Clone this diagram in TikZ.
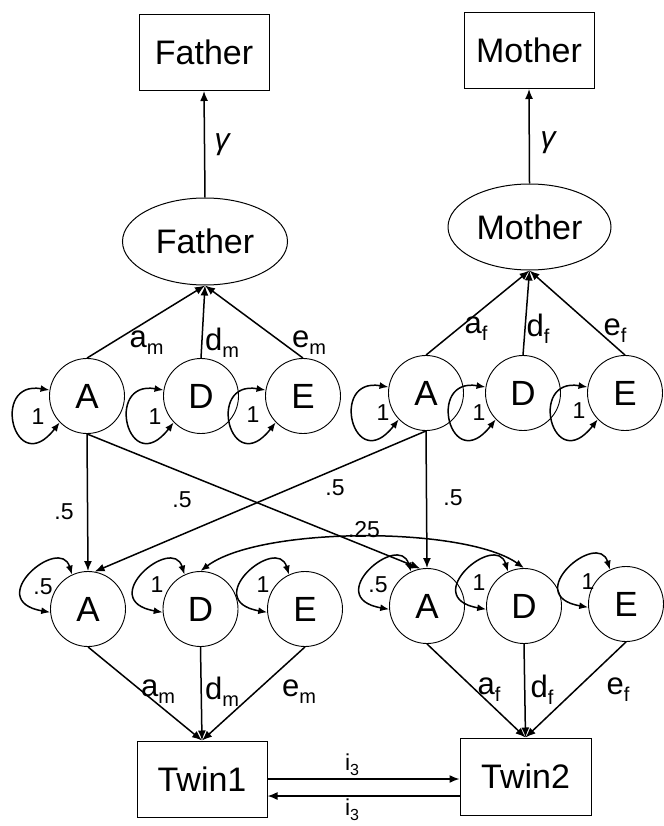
\documentclass[tikz,border=0pt]{standalone}
\usepackage{fontspec}
\setmainfont{Liberation Sans}
\usetikzlibrary{arrows.meta,shapes.geometric}
\newcommand\lowsub[1]{\raisebox{-7pt}{\fontsize{20}{22}\selectfont #1}}
\newcommand\lowsubsm[1]{\raisebox{-5pt}{\fontsize{16}{18}\selectfont #1}}
\begin{document}
\begin{tikzpicture}[x=1pt,y=-1pt,
  obsbox/.style={draw, line width=1pt, minimum width=130pt, minimum height=76pt, inner sep=0pt, font=\fontsize{34}{38}\selectfont},
  latell/.style={ellipse, draw, line width=1pt, minimum width=165pt, minimum height=87pt, inner sep=0pt, font=\fontsize{34}{38}\selectfont},
  latc/.style={circle, draw, line width=0.9pt, minimum size=75pt, inner sep=0pt, font=\fontsize{35}{38}\selectfont},
  onearrow/.style={line width=1.5pt, -{Latex[length=10pt,width=8pt]}},
  twoarrow/.style={line width=1.5pt, {Latex[length=9pt,width=7pt]}-{Latex[length=9pt,width=7pt]}},
  lab/.style={inner sep=0pt, font=\fontsize{31}{34}\selectfont},
  num/.style={inner sep=0pt, font=\fontsize{23}{26}\selectfont},
  gam/.style={inner sep=0pt, font=\fontsize{30}{34}\selectfont\itshape}
]
\useasboundingbox (0,0) rectangle (663,826);

% observed boxes
\node[obsbox] (fb) at (204,52.5) {Father};
\node[obsbox] (mb) at (529,50.5) {Mother};
\node[obsbox] (tw1) at (202,779) {Twin1};
\node[obsbox, minimum width=131pt, minimum height=77pt] (tw2) at (525.5,776.5) {Twin2};

% latent parents
\node[latell] (fe) at (205,241.5) {Father};
\node[latell, minimum width=163pt, minimum height=86pt] (me) at (529.5,227) {Mother};

% parent ACE
\node[latc] (fA) at (87,396) {A};
\node[latc] (fD) at (201,396) {D};
\node[latc] (fE) at (303,396) {E};
\node[latc] (mA) at (426,393) {A};
\node[latc] (mD) at (523,393) {D};
\node[latc] (mE) at (625,393) {E};

% twin ACE
\node[latc] (aA) at (88,609) {A};
\node[latc] (aD) at (200.5,609) {D};
\node[latc] (aE) at (305,609) {E};
\node[latc] (bA) at (427,606) {A};
\node[latc] (bD) at (524,606) {D};
\node[latc] (bE) at (626,604) {E};

% gamma paths
\draw[onearrow] (fe.north) -- (fb.south);
\draw[onearrow] (me.north) -- (mb.south);
\node[gam] (g1) at (222,145) {γ};
\node[gam] (g2) at (548,143) {γ};

% parent ACE to latent parents
\foreach \n in {fA,fD,fE} \draw[onearrow] (\n.north) -- (fe.south);
\foreach \n in {mA,mD,mE} \draw[onearrow] (\n.north) -- (me.south);

% twin ACE to twins
\foreach \n in {aA,aD,aE} \draw[onearrow] (\n.south) -- (tw1.north);
\foreach \n in {bA,bD,bE} \draw[onearrow] (\n.south) -- (tw2.north);

% transmission
\draw[onearrow] (fA.south) -- (aA.north);
\draw[onearrow] (fA.south) -- (bA.100);
\draw[onearrow] (mA.south) -- (bA.north);
\draw[onearrow] (mA.south) -- (aA.80);

% .25 covariance
\draw[twoarrow] (aD.north) .. controls +(59,-45) and +(-59,-42) .. (bD.north);

% variance loops upper row
\foreach \n in {fA,fD,fE,mA,mD,mE}
  \draw[twoarrow] (\n.171) .. controls +(-60,-10) and +(-45,58) .. (\n.224);
% variance loops lower row
\foreach \n in {aA,aD,aE,bA,bD,bE}
  \draw[twoarrow] (\n.115) .. controls +(-12,-40) and +(-68,-12) .. (\n.185);

% loop labels upper
\node[num] (l1) at (38,417) {1};
\node[num] (l2) at (155,417) {1};
\node[num] (l3) at (253,415) {1};
\node[num] (l4) at (383,413) {1};
\node[num] (l5) at (479,413) {1};
\node[num] (l6) at (579,411) {1};
% loop labels lower
\node[num] (l7) at (43,587) {.5};
\node[num] (l8) at (157,585) {1};
\node[num] (l9) at (263,585) {1};
\node[num] (l10) at (378,585) {.5};
\node[num] (l11) at (479,583) {1};
\node[num] (l12) at (588,582) {1};

% transmission labels
\node[num] (t1) at (64,512) {.5};
\node[num] (t2) at (182,500) {.5};
\node[num] (t3) at (335,488) {.5};
\node[num] (t4) at (453,498) {.5};
\node[num] (t5) at (364,530) {.25};

% path labels upper
\node[lab] (pa1) at (146.5,342.5) {a\lowsub{m}};
\node[lab] (pd1) at (222,342.5) {d\lowsub{m}};
\node[lab] (pe1) at (309,342.5) {e\lowsub{m}};
\node[lab] (pa2) at (476,329) {a\lowsub{f}};
\node[lab] (pd2) at (538,329) {d\lowsub{f}};
\node[lab] (pe2) at (615,331) {e\lowsub{f}};
% path labels lower
\node[lab] (qa1) at (158,692) {a\lowsub{m}};
\node[lab] (qd1) at (222,692) {d\lowsub{m}};
\node[lab] (qe1) at (299,692) {e\lowsub{m}};
\node[lab] (qa2) at (489,690) {a\lowsub{f}};
\node[lab] (qd2) at (542,690) {d\lowsub{f}};
\node[lab] (qe2) at (618,690) {e\lowsub{f}};

% twin interaction
\coordinate (hi1) at (tw1.east);
\coordinate (hi2) at (hi1 -| tw2.west);
\coordinate (lo1) at ([yshift=-17pt]tw1.east);
\coordinate (lo2) at (lo1 -| tw2.west);
\draw[onearrow] (hi1) -- (hi2);
\draw[onearrow] (lo2) -- (lo1);
\node[num] (i1) at (352,765) {i\lowsubsm{3}};
\node[num] (i2) at (352,810) {i\lowsubsm{3}};
\end{tikzpicture}
\end{document}
